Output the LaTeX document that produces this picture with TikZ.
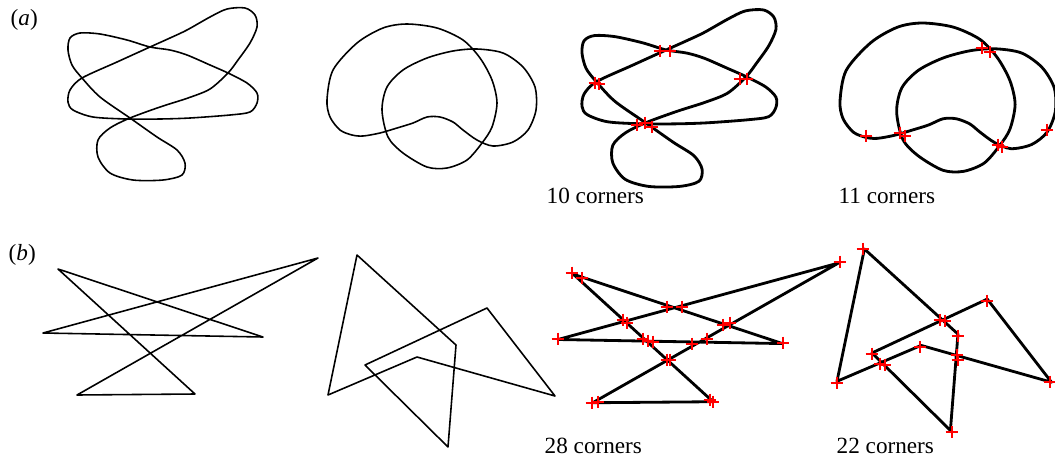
\documentclass[tikz,border=0pt]{standalone}
\usepackage{fontspec}
\setmainfont{Liberation Serif}

% the two closed curves of (a) and the two polygons of (b), in pixel units
\newcommand{\knotA}[1]{\draw[#1] plot[smooth cycle] coordinates {
    (150,47) (127,40) (100,34) (80,33) (70,38) (68,50) (72,65) (82,78)
    (100,97) (130,118) (157,137) (177,150) (185,163) (182,175) (163,180)
    (133,180) (110,173) (98,157) (98,140) (110,128) (130,118) (160,107)
    (188,98) (210,89) (228,73) (238,60) (250,43) (257,27) (255,15) (245,8)
    (227,9) (210,17) (187,30) (170,38) (150,47) (117,62) (82,78) (70,90)
    (68,102) (73,110) (93,117) (127,119) (160,119) (190,118) (230,115)
    (250,112) (257,103) (257,93) (247,83) (228,73) (210,65) (187,55)
    (170,50)};}
\newcommand{\knotB}[1]{\draw[#1] plot[smooth cycle] coordinates {
    (352,135) (340,130) (330,117) (327,100) (333,70) (357,43) (383,28)
    (407,24) (437,28) (463,40) (480,58) (492,80) (497,103) (492,127)
    (482,143) (467,160) (447,168) (427,167) (403,153) (388,137) (382,110)
    (387,87) (403,70) (427,58) (453,51) (477,49) (503,53) (523,67) (535,87)
    (536,110) (528,130) (513,142) (493,146) (477,140) (463,130) (453,122)
    (440,117) (427,117) (413,123) (397,128) (380,133) (363,136)};}
\newcommand{\polyA}[1]{\draw[#1] (58,269) -- (263,337) -- (43,333) -- (318,258)
    -- (77,395) -- (195,394) -- cycle;}
\newcommand{\polyB}[1]{\draw[#1] (357,255) -- (456,345) -- (448,447) -- (365,365)
    -- (487,308) -- (555,396) -- (417,357) -- (328,395) -- cycle;}

\begin{document}
\begin{tikzpicture}[x=0.1mm, y=-0.1mm,
    thinline/.style={line width=0.45pt, line join=round},
    thickline/.style={line width=0.8pt, line join=round},
    corner/.style={red, line width=0.4pt, mark size=1.8pt},
    caption/.style={anchor=base west, inner sep=0pt,
        font=\fontsize{6.6}{8}\selectfont}]
    \useasboundingbox (0,0) rectangle (1055,461);

    % (a)
    \node[caption] (la) at (10,25) {(\textit{a})};
    \knotA{thinline}
    \knotB{thinline}
    \knotA{thickline, shift={(582,12)}, scale=1.026, shift={(-68,-10)}}
    \knotB{thickline, shift={(840,23)}, scale=1.03, shift={(-327,-24)}}
    \draw[corner] plot[only marks, mark=+] coordinates {
        (660,51) (670,51) (595,83) (599,84) (740,79) (747,79)
        (637,125) (645,123) (652,127)};
    \draw[corner] plot[only marks, mark=+] coordinates {
        (866,136) (900,133) (905,136) (982,48) (990,52)
        (998,145) (1002,147) (1047,130)};
    \node[caption] (c10) at (546,203) {10 corners};
    \node[caption] (c11) at (838,203) {11 corners};

    % (b)
    \node[caption] (lb) at (8,260) {(\textit{b})};
    \polyA{thinline}
    \polyB{thinline}
    \polyA{thickline, shift={(558,263)}, scale=1.02, shift={(-43,-258)}}
    \polyB{thickline, shift={(837,249)}, scale=0.945, shift={(-328,-255)}}
    \draw[corner] plot[only marks, mark=+] coordinates {
        (572,273) (582,278) (667,307) (682,307) (623,320) (627,323)
        (723,325) (730,323) (558,339) (643,339) (648,341) (653,342)
        (692,344) (707,339) (667,360) (670,360) (783,343) (592,403)
        (598,402) (710,400) (713,402) (840,262)};
    \draw[corner] plot[only marks, mark=+] coordinates {
        (863,249) (940,320) (945,321) (958,336) (872,354) (880,364)
        (885,365) (920,347) (957,355) (958,360) (987,301) (1050,382)
        (837,383) (952,432)};
    \node[caption] (c28) at (544,453) {28 corners};
    \node[caption] (c22) at (836,453) {22 corners};
\end{tikzpicture}
\end{document}
